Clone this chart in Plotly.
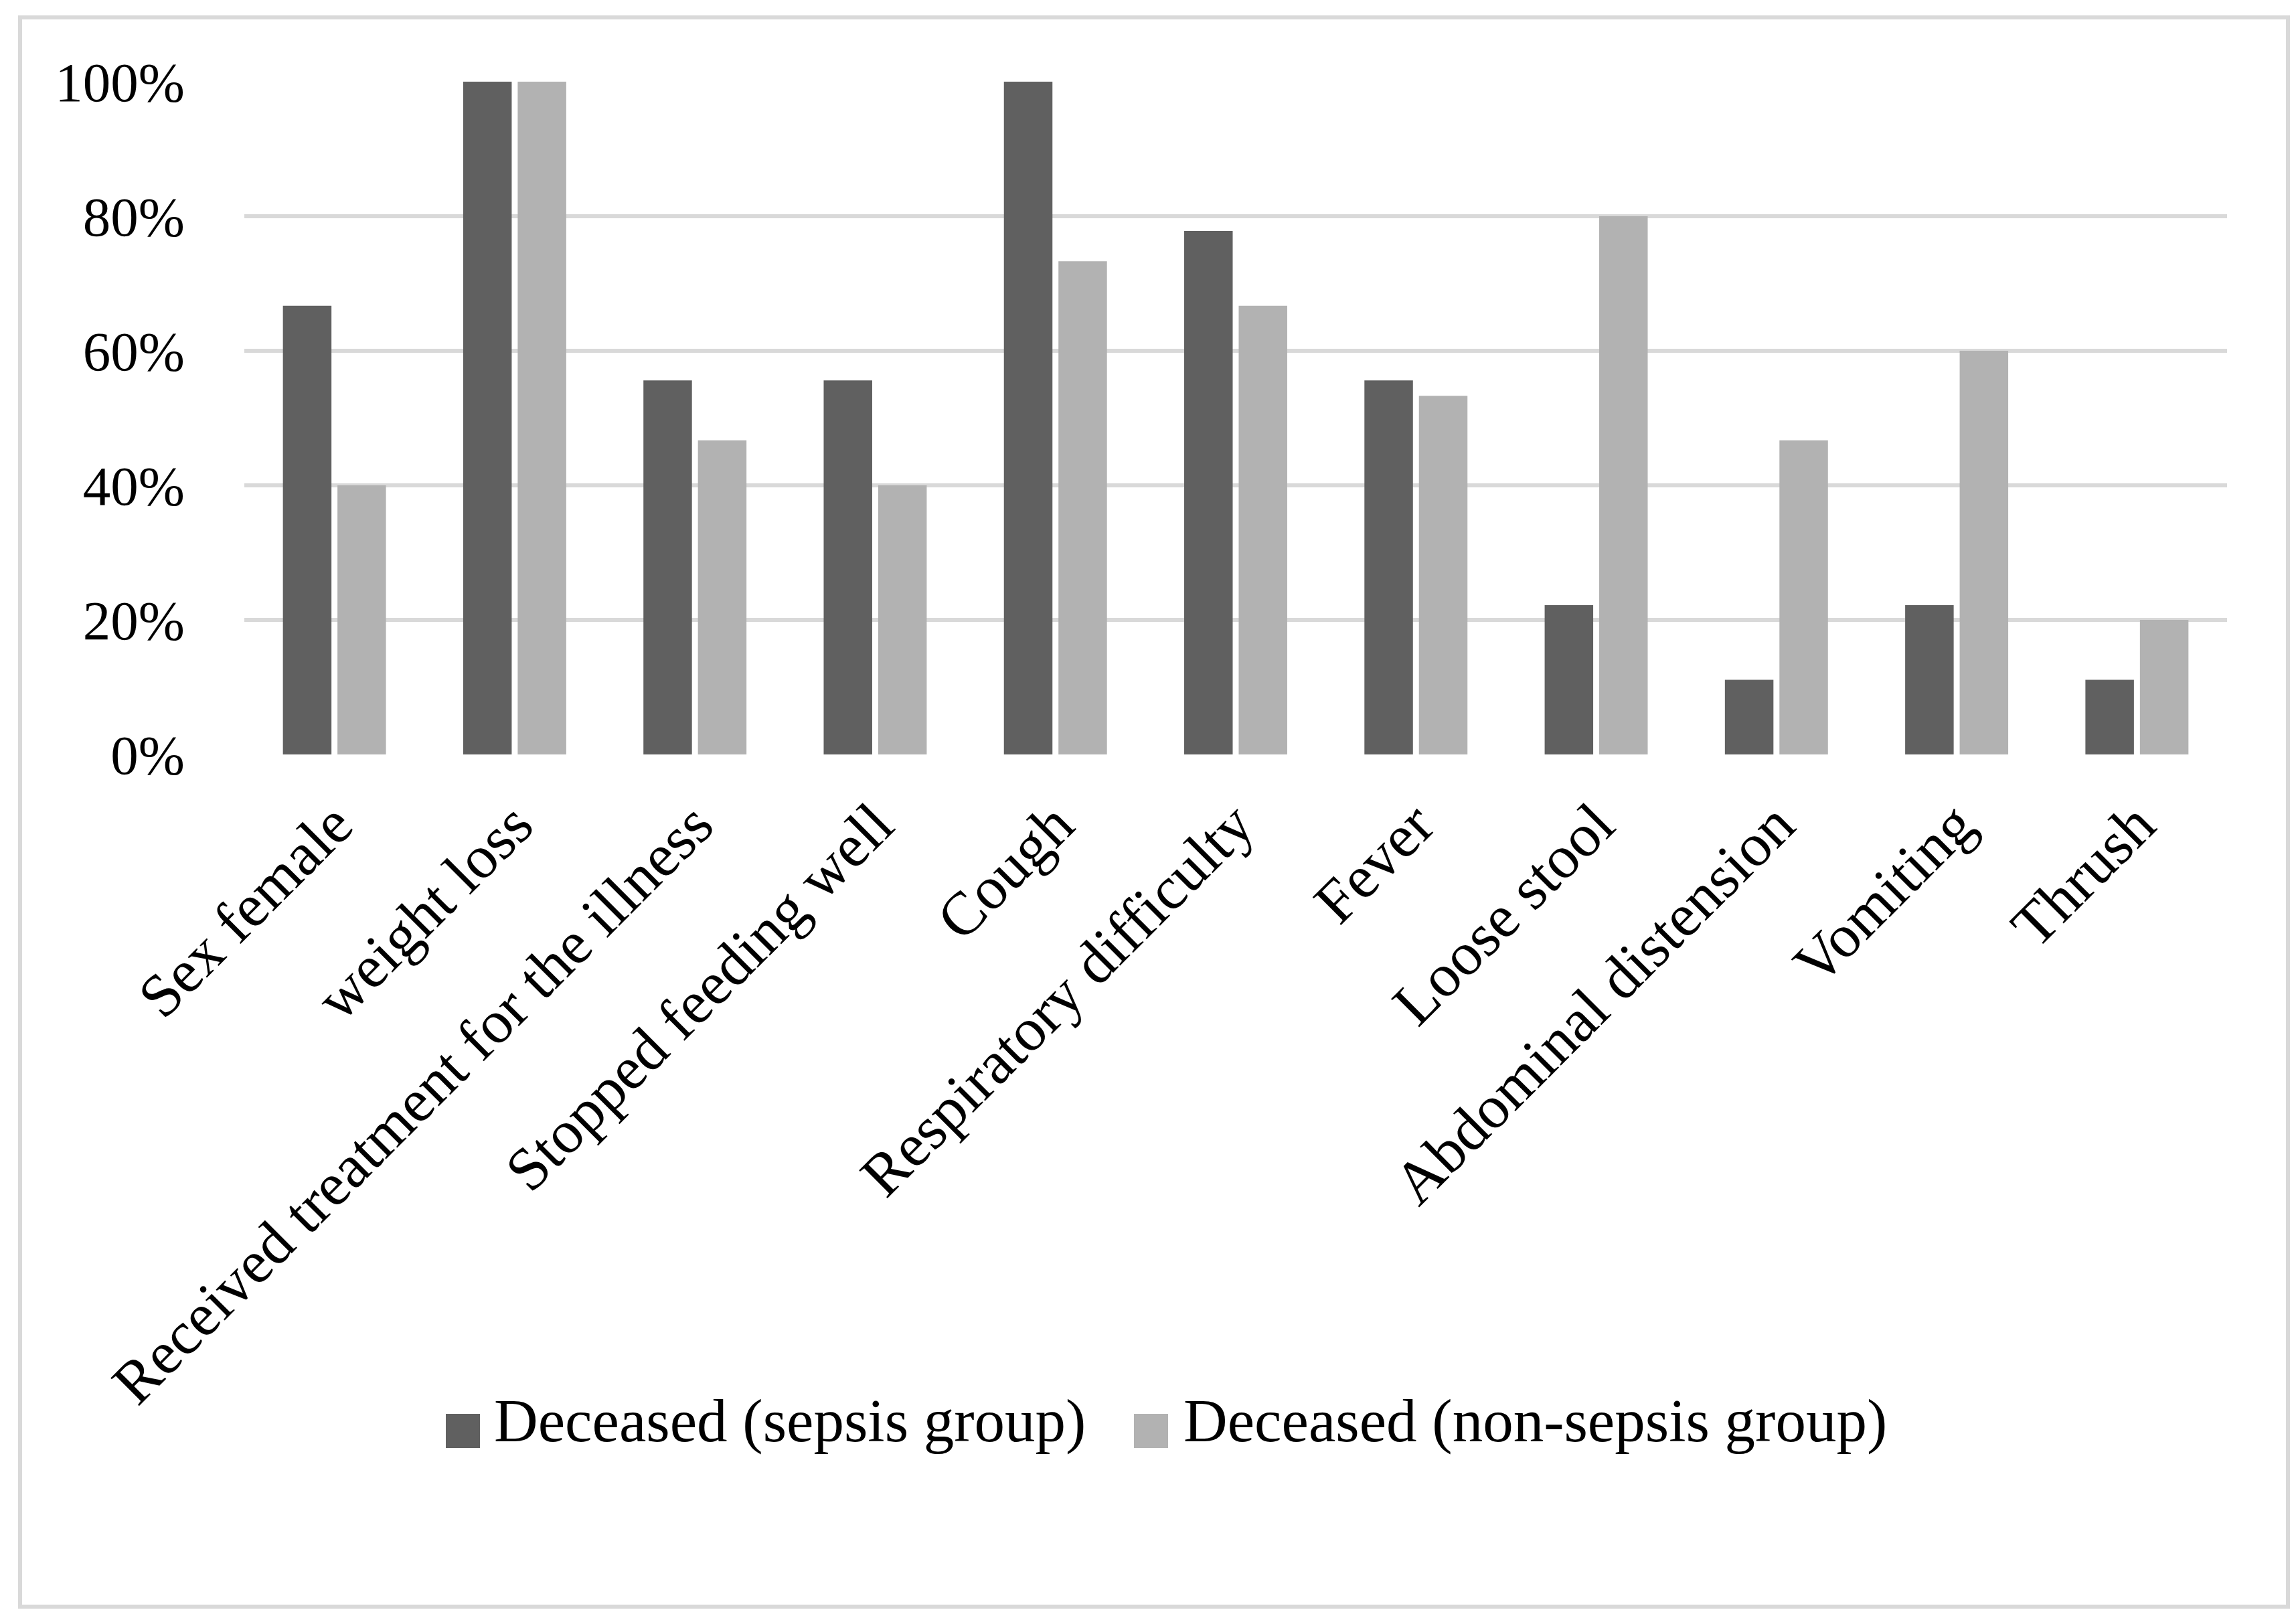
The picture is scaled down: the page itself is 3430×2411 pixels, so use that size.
import plotly.graph_objects as go

categories = ["Sex female", "weight loss", "Received treatment for the illness",
              "Stopped feeding well", "Cough", "Respiratory difficulty", "Fever",
              "Loose stool", "Abdominal distension", "Vomiting", "Thrush"]
sepsis = [66.7, 100, 55.6, 55.6, 100, 77.8, 55.6, 22.2, 11.1, 22.2, 11.1]
non_sepsis = [40.0, 100, 46.7, 40.0, 73.3, 66.7, 53.3, 80.0, 46.7, 60.0, 20.0]
series_names = ["Deceased (sepsis group)", "Deceased (non-sepsis group)"]
y_ticks = [0, 20, 40, 60, 80, 100]
y_tick_labels = ["0%", "20%", "40%", "60%", "80%", "100%"]

DARK = "#606060"
LIGHT = "#b2b2b2"
GRID = "#d9d9d9"
FONT = "Liberation Serif"

W, H = 3430, 2411
L, R, T, B = 357, 3319, 114, 1119  # plot area in pixels


def px(x):
    return (x - L) / (R - L)


def py(y):
    return (B - y) / (B - T)


fig = go.Figure()
fig.add_trace(go.Bar(x=categories, y=sepsis, name=series_names[0],
                     marker=dict(color=DARK, line=dict(width=0)), showlegend=False))
fig.add_trace(go.Bar(x=categories, y=non_sepsis, name=series_names[1],
                     marker=dict(color=LIGHT, line=dict(width=0)), showlegend=False))

# outer chart border
fig.add_shape(type="rect", xref="paper", yref="paper",
              x0=px(22), x1=px(3410), y0=py(2392), y1=py(18),
              line=dict(color=GRID, width=6), layer="below")

# custom legend (large square swatches)
legend_items = [(series_names[0], DARK, 658, 728), (series_names[1], LIGHT, 1686, 1758)]
for name, col, sx, tx in legend_items:
    fig.add_shape(type="rect", xref="paper", yref="paper",
                  x0=px(sx), x1=px(sx + 51), y0=py(2155), y1=py(2104),
                  fillcolor=col, line=dict(width=0))
    fig.add_annotation(xref="paper", yref="paper", x=px(tx), y=py(2114),
                       xanchor="left", yanchor="middle", showarrow=False,
                       text=name, font=dict(family=FONT, size=91, color="#000000"))

fig.update_layout(
    width=W, height=H,
    margin=dict(l=L, r=W - R, t=T, b=H - B, pad=0),
    paper_bgcolor="white", plot_bgcolor="white",
    barmode="group", bargap=0.395, bargroupgap=0.11,
    font=dict(family=FONT, color="#000000"),
    showlegend=False,
)
fig.update_xaxes(tickangle=-45, tickfont=dict(family=FONT, size=91, color="#000000"),
                 showgrid=False, showline=False, zeroline=False, ticks="",
                 ticklabelstandoff=32)
fig.update_yaxes(range=[0, 100], tickvals=y_ticks, ticktext=y_tick_labels,
                 tickfont=dict(family=FONT, size=83, color="#000000"),
                 showgrid=True, gridcolor=GRID, gridwidth=6, zeroline=False,
                 showline=False, ticks="", ticklabelstandoff=88)

fig.write_html("out.html")
